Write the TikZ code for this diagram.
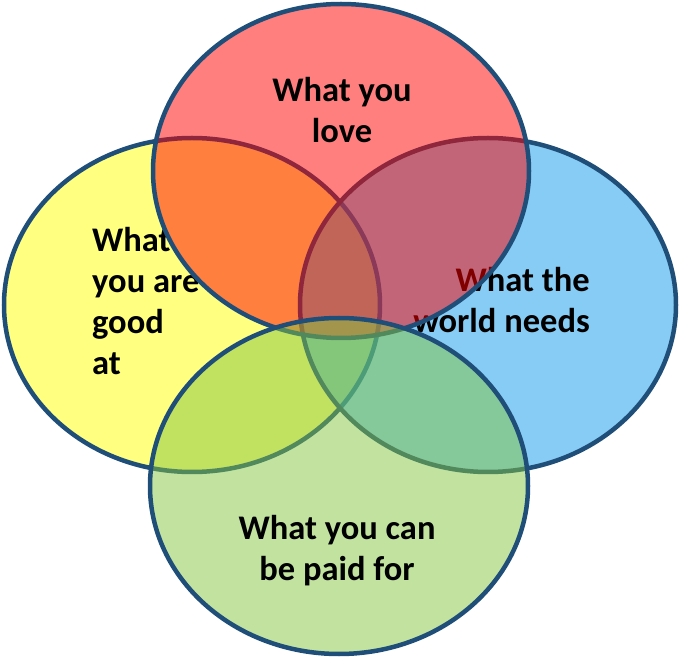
\documentclass[tikz,border=0pt]{standalone}
\usepackage{fontspec}
\setmainfont{Carlito}
\definecolor{ringblue}{RGB}{31,78,121}
\definecolor{goodyellow}{RGB}{255,255,128}
\definecolor{worldblue}{RGB}{13,153,233}
\definecolor{lovered}{RGB}{255,0,0}
\definecolor{paidgreen}{RGB}{133,197,65}
\tikzstyle{ring} = [line width=4.5pt, draw=ringblue]
\tikzstyle{venntext} = [inner sep=0pt, font=\fontsize{34.5}{41}\selectfont\bfseries]
\tikzstyle{oval} = [x radius=188pt, y radius=167pt]

\begin{document}
\begin{tikzpicture}[x=1pt, y=-1pt]
\useasboundingbox (0,0) rectangle (681,660);

% Centres
\coordinate (good) at (192,305);
\coordinate (world) at (488,305);
\coordinate (love) at (341,171);
\coordinate (paid) at (339,486);

% Yellow and blue sets
\fill [goodyellow] (good) ellipse [oval];
\draw [ring] (good) ellipse [oval];
\fill [worldblue, fill opacity=0.5] (world) ellipse [oval];
\draw [ring] (world) ellipse [oval];

% Labels lying under the red set
\begin{scope}[even odd rule]
\clip (0,0) rectangle (681,660) (love) ellipse [oval];
\node (goodtext) [venntext, anchor=base west, align=left] at (92,375) {What\\you are\\good\\at};
\end{scope}
\node (worldtext) [venntext, anchor=base east, align=right] at (590,333) {What the\\world needs};

% Red set
\fill [lovered, fill opacity=0.5] (love) ellipse [oval];
\draw [ring] (love) ellipse [oval];
\node (lovetext) [venntext, anchor=base, align=center] at (342,143) {What you\\love};

% Green set
\fill [paidgreen, fill opacity=0.5] (paid) ellipse [x radius=189pt, y radius=168pt];
\draw [ring] (paid) ellipse [x radius=189pt, y radius=168pt];
\node (paidtext) [venntext, anchor=base, align=center] at (337,580) {What you can\\be paid for};

\end{tikzpicture}
\end{document}
